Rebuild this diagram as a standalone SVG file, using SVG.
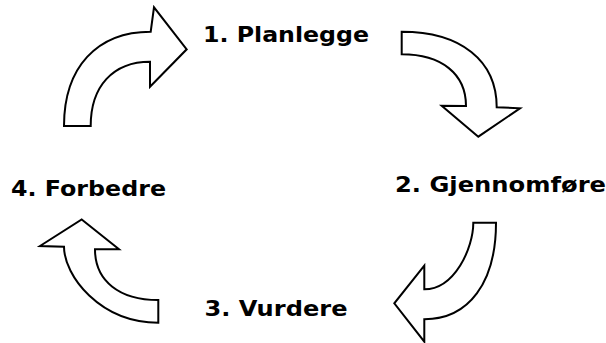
<svg xmlns="http://www.w3.org/2000/svg" width="606" height="343" viewBox="0 0 606 343">
<style>
.arrow{fill:#fff;stroke:#000;stroke-width:2;stroke-linejoin:miter}
.lbl{font-family:"DejaVu Sans","Liberation Sans",sans-serif;font-weight:bold;font-size:21px;fill:#000}
</style>
<rect width="606" height="343" fill="#fff"/>
<g id="connectors">
<path id="arrow1" class="arrow" d="M64,126 C64,67.5 96.9,31.7 150.7,31.7 L154,7.3 L186.7,49.3 L150,86.7 L150,61.7 C113.2,61.7 90.7,86.1 90.7,126 Z"/>
<path id="arrow2" class="arrow" d="M401.7,31.7 C460.6,31.7 496.7,60.4 496.7,107.3 L520,108.3 L478.3,136.7 L441.7,105.7 L466,106 C466,74 441.6,54.3 401.7,54.3 Z"/>
<path id="arrow3" class="arrow" d="M473.3,222.7 L496,222.7 C496,282.6 468.8,319.3 424.3,319.3 L424.3,341.7 L394.3,303.3 L424.3,265.7 L424.3,289.3 C454.7,289.3 473.3,248 473.3,222.7 Z"/>
<path id="arrow4" class="arrow" d="M81.7,219.5 L119,249.3 L95,249.3 C95,280.7 119.1,300 158.3,300 L158.3,322.7 C99.8,322.7 64,275.6 64,246.7 L40,246 Z"/>
</g>
<g id="node1"><text class="lbl" x="203" y="41.5" textLength="166" lengthAdjust="spacingAndGlyphs">1. Planlegge</text></g>
<g id="node2"><text class="lbl" x="395" y="192" textLength="211" lengthAdjust="spacingAndGlyphs">2. Gjennomføre</text></g>
<g id="node3"><text class="lbl" x="204.5" y="316" textLength="143" lengthAdjust="spacingAndGlyphs">3. Vurdere</text></g>
<g id="node4"><text class="lbl" x="11" y="196" textLength="155" lengthAdjust="spacingAndGlyphs">4. Forbedre</text></g>
</svg>
